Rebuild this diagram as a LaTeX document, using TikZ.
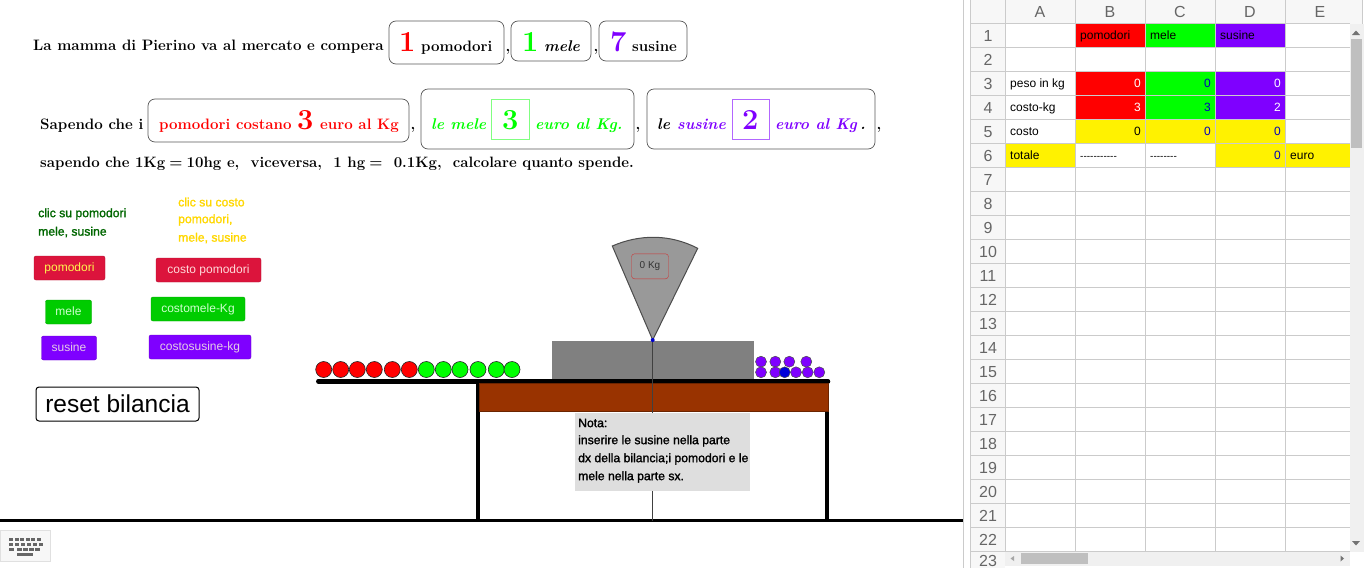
\documentclass[tikz,border=0pt]{standalone}
\usepackage{fontspec}
\setsansfont{Liberation Sans}
\newfontfamily\notefont[FakeBold=1.5]{Liberation Sans}
\definecolor{rosso}{HTML}{FF0000}
\definecolor{verde}{HTML}{00FF00}
\definecolor{viola}{HTML}{7F00FF}
\definecolor{cremisi}{HTML}{DC143C}
\definecolor{verdebtn}{HTML}{00CC00}
\definecolor{marrone}{HTML}{993300}
\definecolor{griglia}{HTML}{CBCBCB}
\definecolor{oro}{HTML}{FFD700}
\tikzset{
	x=1pt, y=-1pt,
	testo/.style={anchor=base west, inner sep=0pt, font=\fontsize{15.1}{16}\bfseries},
	corsivo/.style={anchor=base west, inner sep=0pt, font=\fontsize{15.5}{16}\bfseries\itshape},
	cifra/.style={anchor=base west, inner sep=0pt, font=\fontsize{29}{30}\bfseries},
	riquadro/.style={draw=black!65, rounded corners=7pt, inner sep=0pt, line width=0.7pt},
	quadretto/.style={draw, fill=white, inner sep=0pt, line width=0.6pt},
	bottone/.style={rounded corners=2pt, inner sep=0pt, font=\sffamily\fontsize{12}{12}\selectfont, text height=8.5pt, text depth=2.5pt},
	avviso/.style={anchor=west, inner sep=0pt, font=\notefont\fontsize{12.2}{12}\selectfont},
	pallina/.style={circle, draw=black!85, line width=0.6pt, minimum size=16pt, inner sep=0pt},
	pallino/.style={circle, draw=black!70, line width=0.5pt, minimum size=11pt, inner sep=0pt, fill=viola},
	cella/.style={inner sep=0pt, font=\sffamily\fontsize{12}{12}\selectfont, text height=8.5pt, text depth=2.5pt},
	trattini/.style={cella, anchor=west, font=\sffamily\fontsize{10}{10}\selectfont},
	intesta/.style={inner sep=0pt, text=black!60, font=\sffamily\fontsize{16}{16}\selectfont},
}
\begin{document}
\begin{tikzpicture}
	\useasboundingbox (0,0) rectangle (1366,568);
	% testo del problema
	\node[testo] (riga1) at (33,50.5) {La mamma di Pierino va al mercato e compera};
	\node[riquadro, minimum width=115pt, minimum height=43pt] (boxpom) at (446.5,42.5) {};
	\node[riquadro, minimum width=80pt, minimum height=40pt] (boxmel) at (551,41) {};
	\node[riquadro, minimum width=88pt, minimum height=40pt] (boxsus) at (643,41) {};
	\node[cifra, text=rosso] (n1) at (399,51) {1};
	\node[testo] (npom) at (421,51) {pomodori};
	\node[testo] (v1) at (505.5,51) {,};
	\node[cifra, text=verde] (n2) at (522,51) {1};
	\node[corsivo] (nmel) at (544,51) {mele};
	\node[testo] (v2) at (593.5,51) {,};
	\node[cifra, text=viola] (n3) at (610,51) {7};
	\node[testo] (nsus) at (632,51) {susine};

	\node[testo] (riga2) at (40,129) {Sapendo che i};
	\node[riquadro, minimum width=261pt, minimum height=43pt] (boxprezzo1) at (278.5,120.5) {};
	\node[testo, text=rosso] (p1) at (159,129) {pomodori costano};
	\node[cifra, text=rosso] (p1n) at (297,129) {3};
	\node[testo, text=rosso] (p1e) at (320,129) {euro al Kg};
	\node[testo] (v3) at (410.5,129) {,};
	\node[riquadro, minimum width=213pt, minimum height=60pt] (boxprezzo2) at (527.5,119) {};
	\node[corsivo, text=verde] (p2) at (431,129) {le mele};
	\node[quadretto, draw=verde!50!white, minimum width=38pt, minimum height=40pt] (q2) at (510,119) {};
	\node[cifra, text=verde] (p2n) at (502,129) {3};
	\node[corsivo, text=verde] (p2e) at (535,129) {euro al Kg.};
	\node[testo] (v4) at (635.5,129) {,};
	\node[riquadro, minimum width=228pt, minimum height=60pt] (boxprezzo3) at (761,119) {};
	\node[corsivo] (p3) at (657,129) {le};
	\node[corsivo, text=viola] (p3s) at (677,129) {susine};
	\node[quadretto, draw=viola!60!white, minimum width=37pt, minimum height=40pt] (q3) at (750.5,119) {};
	\node[cifra, text=viola] (p3n) at (742,129) {2};
	\node[corsivo, text=viola] (p3e) at (775,129) {euro al Kg};
	\node[corsivo] (p3p) at (860,129) {.};
	\node[testo] (v5) at (876.5,129) {,};
	\node[testo, font=\fontsize{15}{16}\bfseries] (riga3) at (40,167) {sapendo che 1Kg\;=\;10hg e,\ \ viceversa,\ \ 1 hg\;=\ \ 0.1Kg,\ \ calcolare quanto spende.};

	% bottoni
	\node[avviso, text=green!40!black] (clic1a) at (38,214) {clic su pomodori};
	\node[avviso, text=green!40!black] (clic1b) at (38,232) {mele, susine};
	\node[avviso, text=oro] (clic2a) at (178,202) {clic su costo};
	\node[avviso, text=oro] (clic2b) at (178,220) {pomodori,};
	\node[avviso, text=oro] (clic2c) at (178,238) {mele, susine};
	\node[bottone, fill=cremisi, draw=cremisi!80!black, text=yellow!70!white, minimum width=71pt, minimum height=24pt] (btnpom) at (69.5,268) {pomodori};
	\node[bottone, fill=verdebtn, draw=verdebtn!80!black, text=green!20!white, minimum width=46pt, minimum height=24pt] (btnmel) at (68.5,312) {mele};
	\node[bottone, fill=viola, draw=viola!80!black, text=violet!20!white, minimum width=55pt, minimum height=24pt] (btnsus) at (69,348) {susine};
	\node[bottone, fill=cremisi, draw=cremisi!80!black, text=red!15!white, minimum width=105pt, minimum height=24pt] (btncpom) at (208.5,270) {costo pomodori};
	\node[bottone, fill=verdebtn, draw=verdebtn!80!black, text=green!20!white, minimum width=94pt, minimum height=24pt] (btncmel) at (198,309) {costomele-Kg};
	\node[bottone, fill=viola, draw=viola!80!black, text=violet!20!white, minimum width=102pt, minimum height=24pt] (btncsus) at (200,347) {costosusine-kg};
	\node[draw=black, rounded corners=3pt, line width=1pt, minimum width=163pt, minimum height=34pt, inner sep=0pt, font=\sffamily\fontsize{24.5}{24}\selectfont] (btnreset) at (117.5,404) {reset bilancia};

	% bilancia
	\coordinate (perno) at (652.7,340);
	\coordinate (sx) at (318.3,381.3);
	\coordinate (dx) at (828,381.3);
	\coordinate (gambaA) at (478,381);
	\coordinate (gambaB) at (827.2,381);
	\coordinate (terraA) at (0,520.5);
	\coordinate (terraB) at (963,520.5);
	\draw[line width=3.5pt] (terraA) -- (terraB);
	\fill[gray] (552,341) rectangle (754,380);
	\draw[line width=4.5pt, line cap=round] (sx) -- (dx);
	\draw[line width=4.5pt] (gambaA) -- (gambaA |- terraA);
	\draw[line width=4.5pt] (gambaB) -- (gambaB |- terraA);
	\draw[marrone!70!black, fill=marrone, line width=0.5pt] (479,383) rectangle (828,411);
	\draw[black!75, line width=0.8pt] (perno) -- (perno |- terraA);
	\draw[black!70, line width=1pt, fill=black!40] (perno) -- (612.3,246) .. controls (640,234) and (670,234) .. (697.7,248.3) -- cycle;
	\fill[blue!80!black] (perno) circle (2pt);
	\node[draw=red!60!gray, rounded corners=3pt, minimum width=37pt, minimum height=25pt, inner sep=0pt, text=black!80, font=\sffamily\fontsize{10}{10}\selectfont] (peso) at (650,266.3) {0 Kg};
	\node[fill=black!13, minimum width=175pt, minimum height=78pt, inner sep=0pt] (nota) at (662.5,451.7) {};
	\node[avviso] (nota1) at (578,423) {Nota:};
	\node[avviso] (nota2) at (578,441) {inserire le susine nella parte};
	\node[avviso] (nota3) at (578,459) {dx della bilancia;i pomodori e le};
	\node[avviso] (nota4) at (578,477) {mele nella parte sx.};
	\foreach \px [count=\i] in {323.7,340.7,357.3,374.3,392.3,409.3}
		\node[pallina, fill=rosso] (pom\i) at (\px,369.5) {};
	\foreach \px [count=\i] in {426.3,443.3,460,478,496.3,512}
		\node[pallina, fill=verde] (mel\i) at (\px,369.5) {};
	\foreach \px [count=\i] in {761,775.3,789.3,806.3}
		\node[pallino] (susA\i) at (\px,361.7) {};
	\foreach \px [count=\i] in {761,775.3,796,807.7,819.3}
		\node[pallino] (susB\i) at (\px,372.3) {};
	\node[pallino, fill=blue!85!black] (susC) at (784.7,372.3) {};

	% tastiera
	\node[draw=black!12, fill=black!3, line width=1pt, minimum width=50pt, minimum height=31pt, inner sep=0pt] (tastiera) at (25,545.5) {};
	\foreach \px in {9,14.6,20.2,25.8,31.4,37}
		\fill[black!60] (\px,537.7) rectangle +(4,3.2);
	\foreach \px in {9,15,21,27,33,38.5}
		\fill[black!60] (\px,542.7) rectangle +(4,3.2);
	\foreach \px in {9,17,23,29,35}
		\fill[black!60] (\px,547.7) rectangle +(5,3.2);
	\fill[black!60] (17,552.7) rectangle +(16,3.2);

	% foglio di calcolo
	\draw[griglia, line width=0.8pt] (963.5,0) -- (963.5,568);
	\fill[black!3] (970,0) rectangle (1362.5,23.5);
	\fill[black!3] (970,23.5) rectangle (1005,568);
	\fill[black!6] (1350,23.5) rectangle (1364,552);
	\fill[black!6] (1005,552) rectangle (1350,566);
	\fill[black!25] (1351,39) rectangle (1362,148);
	\fill[black!25] (1021,553) rectangle (1088,564);
	\fill[black!55] (1352,35) -- (1360,35) -- (1356,30.5) -- cycle;
	\fill[black!55] (1352,541) -- (1360,541) -- (1356,545.5) -- cycle;
	\fill[black!35] (1014,556) -- (1014,561) -- (1010.5,558.5) -- cycle;
	\fill[black!55] (1340.5,555.5) -- (1340.5,561.5) -- (1344,558.5) -- cycle;
	% celle colorate
	\fill[rosso] (1075,23.5) rectangle (1145,47.5);
	\fill[verde] (1145,23.5) rectangle (1215,47.5);
	\fill[viola] (1215,23.5) rectangle (1285,47.5);
	\fill[rosso] (1075,71.5) rectangle (1145,119.5);
	\fill[verde] (1145,71.5) rectangle (1215,119.5);
	\fill[viola] (1215,71.5) rectangle (1285,119.5);
	\fill[yellow] (1075,119.5) rectangle (1285,143.5);
	\fill[yellow] (1005,143.5) rectangle (1075,167.5);
	\fill[yellow] (1215,143.5) rectangle (1350,167.5);
	\foreach \i in {0,...,22}
		\draw[griglia, line width=0.8pt] (970,23.5+24*\i) -- (1350,23.5+24*\i);
	\draw[griglia, line width=0.8pt] (970,0) -- (970,568);
	\draw[griglia, line width=0.8pt] (1005,0) -- (1005,552);
	\foreach \px in {1075,1145,1215,1285}
		\draw[griglia, line width=0.8pt] (\px,0) -- (\px,552);
	\draw[griglia, line width=0.8pt] (1362.5,0) -- (1362.5,23.5);
	\foreach \lettera [count=\i] in {A,B,C,D,E}
		\node[intesta] (col\lettera) at (1040+70*\i-70,12) {\lettera};
	\foreach \i in {1,...,22}
		\node[intesta] (rig\i) at (988,12+24*\i) {\i};
	\node[intesta] (rig23) at (988,561) {23};
	\node[cella, anchor=west] (B1) at (1080,36) {pomodori};
	\node[cella, anchor=west] (C1) at (1150,36) {mele};
	\node[cella, anchor=west] (D1) at (1220,36) {susine};
	\node[cella, anchor=west] (A3) at (1010,84) {peso in kg};
	\node[cella, anchor=west] (A4) at (1010,108) {costo-kg};
	\node[cella, anchor=west] (A5) at (1010,132) {costo};
	\node[cella, anchor=west] (A6) at (1010,156) {totale};
	\node[cella, anchor=east, text=white] (B3) at (1141,84) {0};
	\node[cella, anchor=east, text=blue!75!black] (C3) at (1211,84) {0};
	\node[cella, anchor=east, text=white] (D3) at (1281,84) {0};
	\node[cella, anchor=east, text=white] (B4) at (1141,108) {3};
	\node[cella, anchor=east, text=blue!75!black] (C4) at (1211,108) {3};
	\node[cella, anchor=east, text=white] (D4) at (1281,108) {2};
	\node[cella, anchor=east] (B5) at (1141,132) {0};
	\node[cella, anchor=east, text=blue!75!black] (C5) at (1211,132) {0};
	\node[cella, anchor=east, text=blue!75!black] (D5) at (1281,132) {0};
	\node[trattini] (B6) at (1080,156) {-{}-{}-{}-{}-{}-{}-{}-{}-{}-{}-};
	\node[trattini] (C6) at (1150,156) {-{}-{}-{}-{}-{}-{}-{}-};
	\node[cella, anchor=east, text=blue!75!black] (D6) at (1281,156) {0};
	\node[cella, anchor=west] (E6) at (1290,156) {euro};
\end{tikzpicture}
\end{document}
